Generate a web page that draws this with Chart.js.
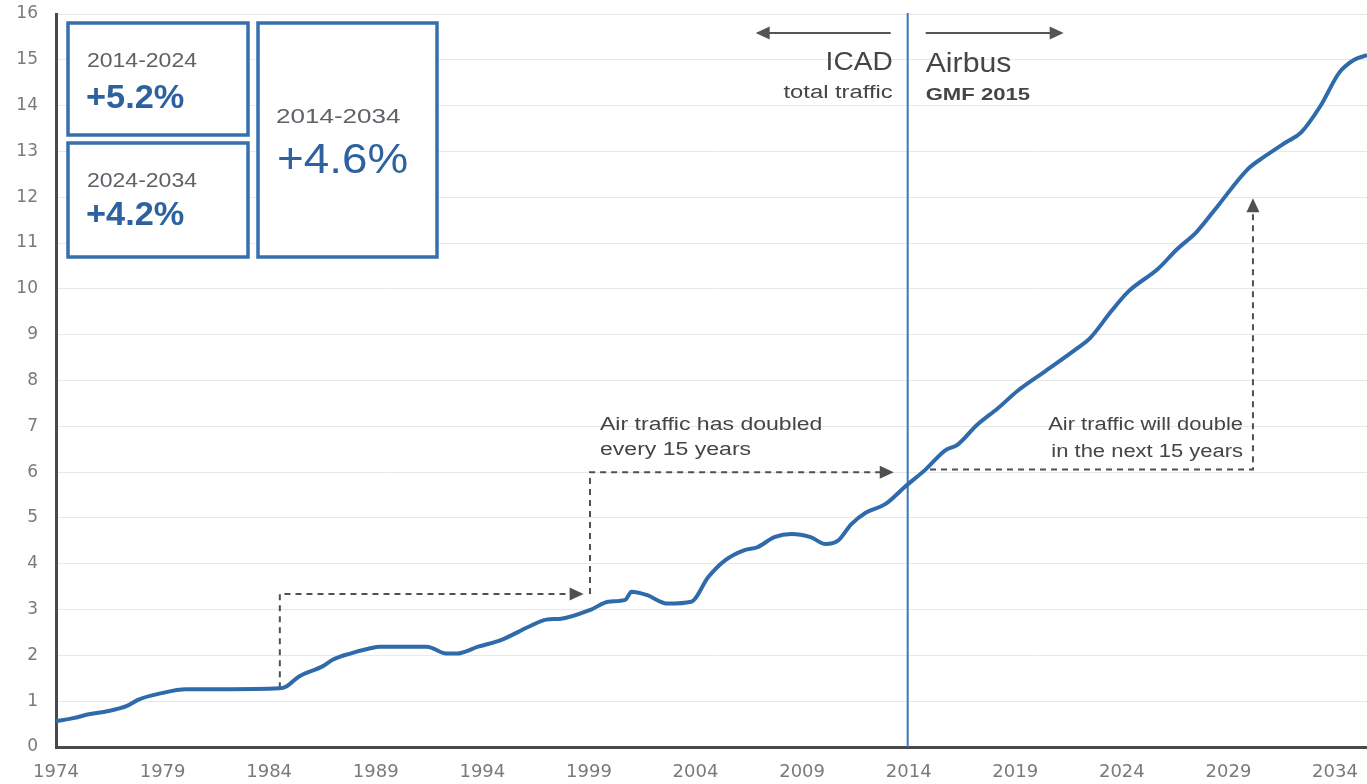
<!DOCTYPE html>
<html>
<head>
<meta charset="utf-8">
<script src="https://cdn.jsdelivr.net/npm/chart.js@4.4.1/dist/chart.umd.min.js"></script>
<style>
  html, body { margin: 0; padding: 0; background: #fff; }
  #wrap { width: 1367px; height: 784px; }
</style>
</head>
<body>
<div id="wrap"><canvas id="plot"></canvas></div>
<script>
// traffic, trillion RPK
const years = [
    1974.0, 1974.8, 1975.6, 1976.4, 1977.3, 1977.9, 1978.9, 1980.1, 1981.8, 1984.5,
    1984.8, 1985.4, 1986.5, 1987.0, 1987.8, 1988.7, 1989.2, 1991.4, 1992.3, 1992.8,
    1993.8, 1994.9, 1996.2, 1997.0, 1997.7, 1999.1, 1999.9, 2000.7, 2001.0, 2001.7,
    2002.7, 2003.8, 2004.6, 2005.4, 2006.3, 2006.9, 2007.7, 2008.5, 2009.4, 2010.1,
    2010.7, 2011.3, 2012.0, 2012.9, 2013.8, 2014.8, 2015.7, 2016.3, 2017.2, 2018.2,
    2019.1, 2020.4, 2021.9, 2022.5, 2023.5, 2024.3, 2025.7, 2026.6, 2027.5, 2028.5,
    2029.9, 2030.7, 2031.7, 2032.4, 2033.3, 2034.2, 2034.9, 2035.5
];
const traffic = [
    0.56, 0.63, 0.72, 0.78, 0.89, 1.04, 1.17, 1.26, 1.26, 1.28,
    1.32, 1.54, 1.76, 1.91, 2.04, 2.15, 2.19, 2.19, 2.04, 2.04,
    2.19, 2.34, 2.63, 2.78, 2.80, 3.00, 3.17, 3.21, 3.39, 3.32,
    3.13, 3.17, 3.71, 4.08, 4.30, 4.36, 4.58, 4.65, 4.58, 4.43,
    4.51, 4.86, 5.12, 5.30, 5.67, 6.06, 6.47, 6.60, 7.03, 7.40,
    7.77, 8.20, 8.70, 8.92, 9.51, 9.94, 10.44, 10.87, 11.24, 11.81,
    12.61, 12.89, 13.20, 13.41, 13.98, 14.72, 15.00, 15.10
];
const yearTicks = [1974, 1979, 1984, 1989, 1994, 1999, 2004, 2009, 2014, 2019, 2024, 2029, 2034];

const splitYear = 2014;
// dashed "doubling" arrows: [x, y] points in data units, last point gets the arrowhead
const pastArrows = [
    [[1984.5, 1.28], [1984.5, 3.34], [1998.75, 3.34]],
    [[1999.05, 3.34], [1999.05, 6.0], [2013.3, 6.0]]
];
const futureArrow = [[2015.0, 6.06], [2030.15, 6.06], [2030.15, 11.98]];

const periods = ['2014-2024', '2024-2034', '2014-2034'];
const growth = ['+5.2%', '+4.2%', '+4.6%'];

const BLUE = '#2f6aab';
const GREY = '#454545';

function label(ctx, text, x, y, font, color, align, stretch) {
    ctx.save();
    ctx.font = font;
    ctx.fillStyle = color;
    ctx.textBaseline = 'alphabetic';
    ctx.textAlign = 'left';
    const w = ctx.measureText(text).width * stretch;
    ctx.translate(align === 'right' ? x - w : x, y);
    ctx.scale(stretch, 1);
    ctx.fillText(text, 0, 0);
    ctx.restore();
}

function arrowHead(ctx, x, y, dx, dy) {
    // tip at (x, y), pointing along (dx, dy)
    const len = 14, half = 6.5;
    const bx = x - dx * len, by = y - dy * len;
    ctx.beginPath();
    ctx.moveTo(x, y);
    ctx.lineTo(bx - dy * half, by + dx * half);
    ctx.lineTo(bx + dy * half, by - dx * half);
    ctx.closePath();
    ctx.fill();
}

function dashedArrow(ctx, sx, sy, pts) {
    const px = pts.map(p => [sx.getPixelForValue(p[0]), sy.getPixelForValue(p[1])]);
    const n = px.length;
    const [ax, ay] = px[n - 2];
    const [tx, ty] = px[n - 1];
    const d = Math.hypot(tx - ax, ty - ay);
    const ux = (tx - ax) / d, uy = (ty - ay) / d;
    ctx.save();
    ctx.strokeStyle = '#505050';
    ctx.fillStyle = '#505050';
    ctx.lineWidth = 2;
    ctx.setLineDash([6, 5]);
    ctx.beginPath();
    ctx.moveTo(px[0][0], px[0][1]);
    for (let i = 1; i < n - 1; i++) ctx.lineTo(px[i][0], px[i][1]);
    ctx.lineTo(tx - ux * 12, ty - uy * 12);
    ctx.stroke();
    ctx.setLineDash([]);
    arrowHead(ctx, tx, ty, ux, uy);
    ctx.restore();
}

const notes = {
    id: 'notes',
    beforeDatasetsDraw(chart) {
        const ctx = chart.ctx;
        const sx = chart.scales.x, sy = chart.scales.y;
        const area = chart.chartArea;

        pastArrows.forEach(a => dashedArrow(ctx, sx, sy, a));
        dashedArrow(ctx, sx, sy, futureArrow);

        const xs = sx.getPixelForValue(splitYear) - 1;
        ctx.save();
        ctx.strokeStyle = '#3a78b8';
        ctx.lineWidth = 2;
        ctx.beginPath();
        ctx.moveTo(xs, area.top - 1);
        ctx.lineTo(xs, area.bottom);
        ctx.stroke();

        // source arrows at the top
        ctx.strokeStyle = '#555';
        ctx.fillStyle = '#555';
        ctx.lineWidth = 2;
        ctx.beginPath();
        ctx.moveTo(xs - 17, 33);
        ctx.lineTo(xs - 145, 33);
        ctx.moveTo(xs + 18, 33);
        ctx.lineTo(xs + 146, 33);
        ctx.stroke();
        arrowHead(ctx, xs - 152, 33, -1, 0);
        arrowHead(ctx, xs + 156, 33, 1, 0);
        ctx.restore();

        const small = '18px "Liberation Sans", Arial, sans-serif';
        label(ctx, 'ICAD', xs - 15, 70, '26px "Liberation Sans", Arial, sans-serif', GREY, 'right', 1.08);
        label(ctx, 'total traffic', xs - 15, 98, small, GREY, 'right', 1.32);
        label(ctx, 'Airbus', xs + 18, 72, '27px "Liberation Sans", Arial, sans-serif', GREY, 'left', 1.12);
        label(ctx, 'GMF 2015', xs + 18, 100, 'bold 17px "Liberation Sans", Arial, sans-serif', GREY, 'left', 1.3);

        label(ctx, 'Air traffic has doubled', 600, 430, small, GREY, 'left', 1.28);
        label(ctx, 'every 15 years', 600, 455, small, GREY, 'left', 1.28);
        label(ctx, 'Air traffic will double', 1243, 430, small, GREY, 'right', 1.22);
        label(ctx, 'in the next 15 years', 1243, 457, small, GREY, 'right', 1.22);
    },
    afterDraw(chart) {
        const ctx = chart.ctx;
        ctx.save();
        ctx.fillStyle = '#fff';
        ctx.strokeStyle = '#3570ad';
        ctx.lineWidth = 3.5;
        [[68, 23, 180, 112], [68, 143, 180, 114], [258, 23, 179, 234]].forEach(b => {
            ctx.fillRect(b[0], b[1], b[2], b[3]);
            ctx.strokeRect(b[0], b[1], b[2], b[3]);
        });
        ctx.restore();

        const range = '20px "Liberation Sans", Arial, sans-serif';
        const pct = 'bold 33px "Liberation Sans", Arial, sans-serif';
        label(ctx, periods[0], 87, 67, range, '#5f6368', 'left', 1.15);
        label(ctx, growth[0], 86, 108, pct, '#2d62a0', 'left', 1.04);
        label(ctx, periods[1], 87, 187, range, '#5f6368', 'left', 1.15);
        label(ctx, growth[1], 86, 225, pct, '#2d62a0', 'left', 1.04);
        label(ctx, periods[2], 276, 123, '21px "Liberation Sans", Arial, sans-serif', '#5f6368', 'left', 1.24);
        label(ctx, growth[2], 277, 173, '42px "Liberation Sans", Arial, sans-serif', '#2d62a0', 'left', 1.09);
    }
};

const ctx = document.getElementById('plot').getContext('2d');
const chartObject = new Chart(ctx, {
    type: 'line',
    data: {
        datasets: [{
            data: years.map((y, i) => ({ x: y, y: traffic[i] })),
            borderColor: BLUE,
            borderWidth: 4,
            pointRadius: 0,
            cubicInterpolationMode: 'monotone',
            fill: false
        }]
    },
    options: {
        responsive: true,
        maintainAspectRatio: false,
        animation: false,
        layout: { padding: { top: 14, right: 0, bottom: 0, left: 0 } },
        plugins: {
            legend: { display: false },
            tooltip: { enabled: false }
        },
        scales: {
            x: {
                type: 'linear',
                min: 1974,
                max: 2035.5,
                afterBuildTicks: s => { s.ticks = yearTicks.map(v => ({ value: v })); },
                afterFit: s => { s.height = 37; s.paddingLeft = 0; s.paddingRight = 0; },
                grid: { display: false, drawTicks: false },
                border: { color: '#4a4a4a', width: 3 },
                ticks: {
                    padding: 15,
                    color: '#7a7a7a',
                    autoSkip: false,
                    maxRotation: 0,
                    font: { family: 'DejaVu Sans', size: 18 },
                    callback: v => String(v)
                }
            },
            y: {
                min: 0,
                max: 16,
                afterFit: s => { s.width = 56; s.paddingTop = 0; s.paddingBottom = 0; },
                grid: { color: '#e8e8e8', lineWidth: 1, drawTicks: false },
                border: { color: '#4a4a4a', width: 3 },
                ticks: {
                    stepSize: 1,
                    padding: 18,
                    color: '#7a7a7a',
                    font: { family: 'DejaVu Sans', size: 17 }
                }
            }
        }
    },
    plugins: [notes]
});
</script>
</body>
</html>
